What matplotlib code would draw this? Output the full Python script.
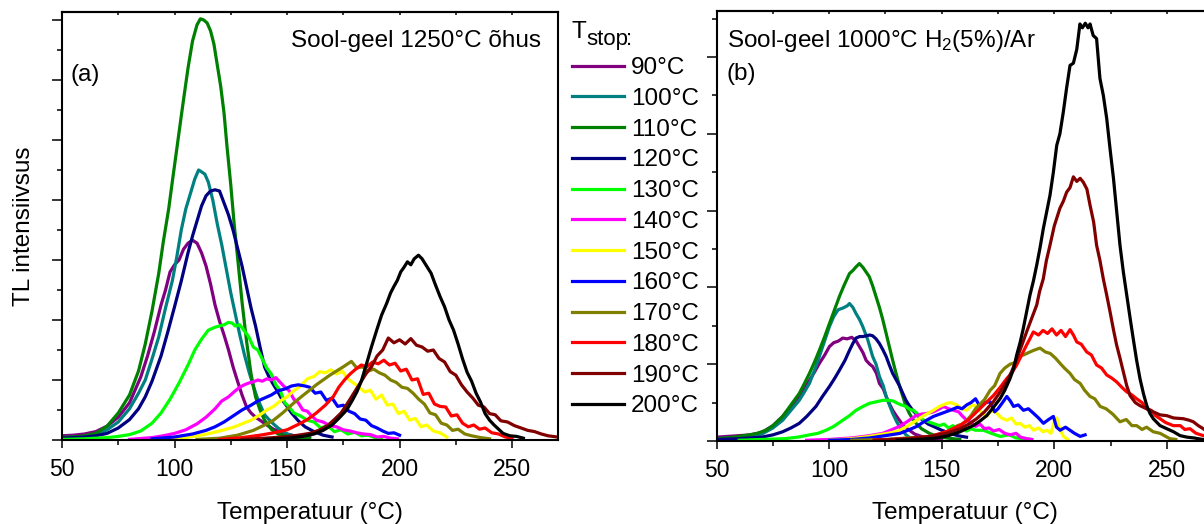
import matplotlib
matplotlib.use("Agg")
import matplotlib.pyplot as plt
from matplotlib.ticker import MultipleLocator, NullFormatter

plt.rcParams['font.family'] = ['Liberation Sans', 'DejaVu Sans']
plt.rcParams['mathtext.fontset'] = 'custom'
plt.rcParams['mathtext.rm'] = 'Liberation Sans'
plt.rcParams['mathtext.default'] = 'regular'

# ---------------- data ----------------
labels = ["90°C", "100°C", "110°C", "120°C", "130°C", "140°C",
          "150°C", "160°C", "170°C", "180°C", "190°C", "200°C"]
colors = ["#800080", "#008080", "#008000", "#000080", "#00FF00", "#FF00FF",
          "#FFFF00", "#0000FF", "#808000", "#FF0000", "#800000", "#000000"]

# Panel (a): Sool-geel 1250°C õhus
a90_T = [50, 55, 60, 65, 70, 75, 80, 85, 88, 91, 94, 96, 98, 100, 102, 104, 106, 108, 110, 112, 114, 116, 118, 120, 122, 124, 126, 128, 130, 132, 134, 136, 138, 141, 144, 148, 152, 156, 160]
a90_v = [0.07, 0.08, 0.1, 0.14, 0.23, 0.38, 0.62, 1.05, 1.4, 1.8, 2.25, 2.5, 2.8, 2.92, 3.0, 3.18, 3.28, 3.33, 3.28, 3.12, 2.9, 2.6, 2.25, 1.98, 1.75, 1.5, 1.22, 0.98, 0.75, 0.55, 0.45, 0.38, 0.33, 0.25, 0.18, 0.12, 0.08, 0.05, 0.04]
a100_T = [50, 55, 60, 65, 70, 75, 80, 84, 87, 90, 93, 96, 99, 101, 103, 105, 107, 109, 110.7, 112, 113.5, 115, 117, 119, 121, 123, 125, 127, 129, 131, 133, 135, 137, 140, 143, 146, 150, 155, 160]
a100_v = [0.04, 0.05, 0.06, 0.08, 0.17, 0.3, 0.52, 0.78, 1.0, 1.35, 1.72, 2.2, 2.65, 3.05, 3.5, 3.85, 4.1, 4.35, 4.5, 4.47, 4.43, 4.3, 4.0, 3.6, 3.25, 2.85, 2.45, 2.1, 1.75, 1.43, 1.15, 0.9, 0.68, 0.42, 0.3, 0.2, 0.1, 0.05, 0.03]
a110_T = [50, 55, 60, 65, 70, 75, 80, 84, 87, 90, 93, 95, 97.4, 99, 101, 103, 104, 106, 108, 110, 111.5, 113, 114.5, 116, 117.5, 119, 120.5, 122, 123.3, 125, 126.5, 128, 130, 132, 134, 136, 138, 140, 143, 146, 150, 155, 160]
a110_v = [0.04, 0.05, 0.07, 0.11, 0.23, 0.45, 0.75, 1.15, 1.6, 2.15, 2.78, 3.3, 3.85, 4.3, 4.85, 5.4, 5.67, 6.2, 6.65, 6.92, 7.02, 7.0, 6.95, 6.82, 6.6, 6.25, 5.9, 5.45, 4.9, 4.25, 3.6, 3.05, 2.3, 1.65, 1.1, 0.72, 0.5, 0.33, 0.18, 0.1, 0.06, 0.04, 0.03]
a120_T = [50, 55, 60, 65, 70, 75, 80, 84, 87, 90, 94, 97, 100, 103, 106, 108, 110, 112, 114, 116, 118, 120, 122, 124, 126, 128, 130, 132, 134, 136, 138, 140, 142, 144, 146, 148, 150, 152, 155, 158, 162, 166, 170]
a120_v = [0.03, 0.04, 0.05, 0.07, 0.11, 0.2, 0.34, 0.52, 0.72, 0.98, 1.4, 1.8, 2.22, 2.65, 3.12, 3.4, 3.65, 3.9, 4.07, 4.15, 4.17, 4.15, 3.95, 3.75, 3.5, 3.2, 2.9, 2.55, 2.2, 1.9, 1.55, 1.22, 1.05, 0.92, 0.8, 0.66, 0.56, 0.45, 0.32, 0.22, 0.14, 0.08, 0.05]
a130_T = [50, 60, 70, 75, 80, 85, 90, 94, 98, 102, 106, 109, 112, 115, 118, 120, 122, 124, 125.6, 127, 129, 131, 133, 135, 137, 139, 141, 143, 145, 147, 149, 151, 153, 156, 159, 162, 165, 168, 171, 174, 177, 180, 183, 186, 189, 192]
a130_v = [0.01, 0.02, 0.04, 0.06, 0.09, 0.15, 0.28, 0.45, 0.68, 0.95, 1.25, 1.5, 1.68, 1.83, 1.88, 1.9, 1.92, 1.96, 1.95, 1.9, 1.92, 1.82, 1.72, 1.55, 1.5, 1.35, 1.2, 1.1, 0.92, 0.82, 0.62, 0.55, 0.45, 0.4, 0.33, 0.3, 0.2, 0.24, 0.14, 0.17, 0.1, 0.13, 0.07, 0.08, 0.04, 0.03]
a140_T = [80, 90, 95, 100, 105, 110, 114, 118, 121, 124, 127, 129, 131, 133, 135, 137, 139, 141, 143, 145, 147, 149, 151, 153, 155, 157, 159, 161, 163, 166, 169, 172, 175, 178, 181, 184, 187, 190, 193, 196, 199]
a140_v = [0.01, 0.04, 0.07, 0.11, 0.17, 0.27, 0.38, 0.52, 0.65, 0.72, 0.82, 0.88, 0.92, 0.95, 0.97, 1.0, 0.98, 1.02, 1.0, 1.04, 0.96, 0.88, 0.82, 0.68, 0.62, 0.5, 0.48, 0.4, 0.33, 0.3, 0.24, 0.22, 0.17, 0.15, 0.12, 0.1, 0.09, 0.05, 0.06, 0.03, 0.02]
a150_T = [95, 105, 112, 118, 122, 126, 130, 134, 138, 141, 144, 147, 150, 153, 156, 159, 162, 164.5, 167, 169.5, 172, 174.5, 177, 179.5, 182, 184.5, 187, 189.5, 192, 194.5, 197, 199.5, 202, 204.5, 207, 209.5, 212, 215, 218, 221]
a150_v = [0.01, 0.04, 0.08, 0.13, 0.17, 0.21, 0.27, 0.33, 0.42, 0.5, 0.56, 0.65, 0.72, 0.82, 0.9, 1.02, 1.06, 1.14, 1.12, 1.17, 1.1, 1.15, 1.02, 0.95, 0.88, 0.8, 0.83, 0.68, 0.75, 0.58, 0.6, 0.44, 0.48, 0.33, 0.36, 0.22, 0.25, 0.15, 0.12, 0.05]
a160_T = [90, 100, 108, 114, 118, 122, 126, 130, 134, 137, 140, 143, 146, 149, 152, 155, 158, 160, 162.5, 165, 167.5, 170, 172.5, 175, 177.5, 180, 182.5, 185, 187.5, 190, 192.5, 195, 197.5, 200]
a160_v = [0.02, 0.05, 0.1, 0.16, 0.22, 0.3, 0.4, 0.5, 0.58, 0.65, 0.7, 0.75, 0.82, 0.85, 0.9, 0.92, 0.9, 0.88, 0.78, 0.8, 0.66, 0.7, 0.56, 0.58, 0.48, 0.44, 0.35, 0.33, 0.24, 0.2, 0.15, 0.11, 0.12, 0.08]
a170_T = [110, 120, 128, 135, 140, 144, 148, 151, 154, 157, 160, 163, 166, 169, 172, 175, 178.6, 181, 183.5, 186, 188.5, 191, 193.5, 196, 198.5, 201, 203.5, 206, 208.5, 211, 213.5, 216, 218.5, 221, 223.5, 226, 229, 232, 236, 240]
a170_v = [0.01, 0.03, 0.08, 0.16, 0.25, 0.33, 0.45, 0.55, 0.65, 0.74, 0.83, 0.92, 1.0, 1.08, 1.15, 1.22, 1.31, 1.2, 1.22, 1.15, 1.18, 1.12, 1.08, 1.0, 0.96, 0.88, 0.86, 0.78, 0.68, 0.6, 0.45, 0.42, 0.28, 0.25, 0.16, 0.18, 0.1, 0.07, 0.04, 0.02]
a180_T = [120, 130, 138, 144, 150, 155, 159, 163, 167, 170.5, 173, 175.5, 178, 180.5, 183, 185.5, 188, 190.5, 193, 195.5, 198, 200.5, 203, 205.5, 208, 210.5, 213, 215.5, 218, 220.5, 223, 225.5, 228, 230.5, 233, 235.5, 238, 241, 244, 247, 250]
a180_v = [0.01, 0.04, 0.08, 0.12, 0.17, 0.26, 0.34, 0.45, 0.58, 0.72, 0.88, 1.0, 1.1, 1.18, 1.25, 1.22, 1.3, 1.27, 1.33, 1.25, 1.28, 1.15, 1.18, 1.0, 1.02, 0.76, 0.78, 0.6, 0.56, 0.55, 0.4, 0.42, 0.28, 0.22, 0.25, 0.18, 0.2, 0.12, 0.1, 0.05, 0.03]
a190_T = [130, 140, 148, 155, 160, 164, 168, 171, 174, 177, 180, 182.5, 185, 187.5, 190, 192.5, 195, 197.5, 200, 202.5, 205, 207.5, 210, 212.5, 215, 217.5, 220, 222.5, 225, 227.5, 230, 232.5, 235, 237.5, 240, 242.5, 245, 248, 251, 254, 257, 260, 263, 266, 270]
a190_v = [0.01, 0.03, 0.05, 0.08, 0.11, 0.16, 0.24, 0.34, 0.45, 0.62, 0.8, 0.95, 1.1, 1.22, 1.4, 1.5, 1.7, 1.62, 1.67, 1.6, 1.69, 1.58, 1.55, 1.48, 1.5, 1.36, 1.3, 1.14, 1.08, 0.92, 0.8, 0.7, 0.58, 0.55, 0.44, 0.42, 0.32, 0.3, 0.24, 0.2, 0.16, 0.14, 0.1, 0.07, 0.05]
a200_T = [140, 150, 157, 162, 166, 170, 173, 176.5, 179, 181, 183, 185.4, 187.5, 190, 192, 194.3, 196, 197.5, 199, 200.5, 202, 203.5, 205, 206.5, 208.4, 210, 212, 214, 216, 218, 220, 222, 224, 226, 228, 230, 232, 234, 236, 238, 240, 242, 244, 246, 249, 252, 255]
a200_v = [0.01, 0.03, 0.06, 0.1, 0.16, 0.25, 0.36, 0.5, 0.66, 0.8, 0.98, 1.28, 1.55, 1.85, 2.08, 2.28, 2.45, 2.56, 2.66, 2.8, 2.88, 2.97, 2.92, 3.02, 3.08, 3.02, 2.9, 2.78, 2.58, 2.39, 2.22, 2.0, 1.83, 1.6, 1.35, 1.13, 0.98, 0.78, 0.63, 0.44, 0.33, 0.25, 0.18, 0.11, 0.07, 0.06, 0.03]

# Panel (b): Sool-geel 1000°C H2(5%)/Ar
b90_T = [50, 55, 60, 65, 70, 75, 79.3, 83, 86.7, 89, 91.2, 93.5, 95.6, 98, 100.1, 102, 104, 106, 108, 110, 112, 113.4, 115, 116.4, 118, 119.3, 121, 122.3, 124, 125.3, 127, 128.2, 130, 131.2, 133, 135.6, 138, 141, 145, 150]
b90_v = [0.05, 0.06, 0.07, 0.08, 0.11, 0.2, 0.32, 0.45, 0.58, 0.68, 0.79, 0.9, 1.01, 1.12, 1.23, 1.28, 1.3, 1.34, 1.33, 1.35, 1.3, 1.23, 1.15, 1.05, 1.0, 0.97, 0.88, 0.75, 0.68, 0.58, 0.47, 0.4, 0.32, 0.27, 0.2, 0.14, 0.09, 0.06, 0.03, 0.02]
b100_T = [50, 55, 60, 65, 70, 75, 79.3, 83, 86.7, 89, 91.2, 94.1, 97.1, 100.1, 102, 104, 106, 108, 109, 110.5, 111.9, 113.5, 114.9, 117.1, 119.3, 120.8, 122.3, 124, 125.3, 127, 128.2, 130, 131.2, 133, 134.1, 136, 140]
b100_v = [0.03, 0.04, 0.05, 0.06, 0.09, 0.17, 0.27, 0.4, 0.53, 0.64, 0.75, 0.97, 1.23, 1.49, 1.62, 1.71, 1.73, 1.76, 1.79, 1.74, 1.66, 1.58, 1.49, 1.32, 1.1, 1.0, 0.84, 0.72, 0.58, 0.45, 0.36, 0.25, 0.19, 0.12, 0.08, 0.04, 0.02]
b110_T = [50, 55, 60, 64.5, 68, 71.9, 75, 79.3, 83, 86.7, 89, 91.2, 93.5, 95.6, 98, 100.1, 102, 104.5, 106.5, 109, 110.5, 112, 113.4, 115, 117.8, 119.3, 120.8, 122.3, 123.8, 125.3, 126.7, 128.2, 129.7, 131.2, 132.7, 134, 135.6, 137, 138.6, 141, 144.5, 148, 152, 158]
b110_v = [0.03, 0.04, 0.06, 0.08, 0.1, 0.14, 0.2, 0.32, 0.47, 0.62, 0.75, 0.88, 1.03, 1.18, 1.36, 1.53, 1.68, 1.88, 2.02, 2.18, 2.22, 2.27, 2.31, 2.26, 2.14, 2.02, 1.88, 1.74, 1.58, 1.4, 1.23, 1.05, 0.88, 0.72, 0.58, 0.46, 0.36, 0.29, 0.23, 0.16, 0.1, 0.06, 0.04, 0.02]
b120_T = [50, 60, 70, 75, 79.3, 83, 86.7, 90, 94.1, 97, 100.1, 102.5, 104.5, 107, 109, 110.5, 111.9, 113.5, 115, 116.4, 118, 119.3, 120.8, 122.3, 123.8, 125.3, 126.7, 128.2, 129.7, 131.2, 132.7, 134.1, 135.6, 137.1, 139, 141.6, 144, 146.3, 150, 153.7, 157, 161]
b120_v = [0.02, 0.03, 0.05, 0.08, 0.12, 0.17, 0.23, 0.32, 0.45, 0.58, 0.71, 0.82, 0.92, 1.05, 1.18, 1.27, 1.34, 1.36, 1.36, 1.37, 1.38, 1.37, 1.33, 1.27, 1.19, 1.1, 0.99, 0.88, 0.8, 0.72, 0.62, 0.53, 0.46, 0.4, 0.34, 0.27, 0.22, 0.19, 0.14, 0.1, 0.07, 0.05]
b130_T = [60, 70, 80, 86, 91.2, 95, 98.6, 102, 106, 109, 111.9, 115, 117.8, 120.8, 123.8, 126.7, 128.5, 130.4, 132, 134.1, 136, 137.4, 139, 140.5, 141.9, 143.5, 145, 147, 149, 151, 153, 155, 157, 159, 161, 163, 165, 168.5, 172, 175.9, 180, 183, 186.3, 190]
b130_v = [0.01, 0.02, 0.03, 0.05, 0.08, 0.1, 0.14, 0.19, 0.27, 0.33, 0.4, 0.45, 0.49, 0.51, 0.53, 0.53, 0.52, 0.49, 0.47, 0.45, 0.41, 0.4, 0.36, 0.32, 0.27, 0.26, 0.24, 0.22, 0.2, 0.22, 0.17, 0.2, 0.15, 0.17, 0.13, 0.16, 0.14, 0.14, 0.1, 0.06, 0.08, 0.04, 0.03, 0.02]
b140_T = [90, 100, 110, 118, 123.8, 128, 131.2, 134, 136.5, 138.6, 141, 143.5, 146.3, 148.5, 150.8, 153, 155.2, 157.5, 159, 161.1, 163, 165, 167, 169, 171, 173, 175.5, 178, 180.4, 183, 185, 187.8, 190]
b140_v = [0.01, 0.02, 0.04, 0.07, 0.1, 0.15, 0.19, 0.24, 0.29, 0.33, 0.35, 0.36, 0.38, 0.41, 0.45, 0.42, 0.4, 0.38, 0.33, 0.27, 0.24, 0.19, 0.22, 0.16, 0.17, 0.13, 0.15, 0.1, 0.08, 0.1, 0.05, 0.03, 0.02]
b150_T = [100, 110, 118, 124, 128, 131.5, 135, 138.9, 142, 146.3, 149, 152.2, 154, 156.7, 159, 161.1, 163.5, 165.6, 168, 170, 172, 174.5, 176.5, 178.9, 181, 183, 184.8, 187, 189, 190.8, 193, 195, 196.7, 198.5, 200, 201.1, 202.5, 204.1, 206]
b150_v = [0.01, 0.03, 0.06, 0.09, 0.11, 0.14, 0.2, 0.27, 0.33, 0.4, 0.45, 0.49, 0.5, 0.47, 0.42, 0.4, 0.47, 0.45, 0.36, 0.32, 0.4, 0.36, 0.3, 0.27, 0.3, 0.22, 0.23, 0.18, 0.2, 0.14, 0.17, 0.12, 0.14, 0.1, 0.25, 0.3, 0.15, 0.06, 0.02]
b160_T = [100, 110, 118, 125, 131.5, 135, 138.9, 142, 146.3, 150, 153.7, 157, 159, 161.1, 163, 165, 167, 169, 171.5, 173.5, 175, 177, 178.9, 180.5, 181.9, 184, 186.3, 188.5, 190.8, 193, 195.2, 197.5, 199.6, 201, 202.6, 205, 207, 209, 211.5, 213.7]
b160_v = [0.01, 0.02, 0.04, 0.07, 0.1, 0.14, 0.19, 0.25, 0.32, 0.36, 0.4, 0.44, 0.42, 0.47, 0.5, 0.55, 0.45, 0.5, 0.51, 0.38, 0.42, 0.5, 0.58, 0.52, 0.45, 0.47, 0.4, 0.42, 0.36, 0.3, 0.23, 0.28, 0.32, 0.18, 0.14, 0.18, 0.14, 0.1, 0.06, 0.08]
b170_T = [110, 125, 135, 142, 146.3, 150, 153.7, 157, 159, 161.1, 163, 165, 167, 169, 171.5, 173.5, 175.9, 178, 180.4, 182.5, 184, 186.3, 188.5, 190.8, 193.7, 196, 198.2, 200.5, 202.6, 204.5, 207, 209, 211.5, 213.5, 215.9, 218, 220.4, 223, 226, 229.2, 232, 234.5, 236.6, 239, 241, 244, 247, 251.4, 254]
b170_v = [0.01, 0.02, 0.04, 0.05, 0.07, 0.1, 0.14, 0.2, 0.22, 0.27, 0.33, 0.42, 0.48, 0.54, 0.66, 0.72, 0.88, 0.95, 1.0, 1.02, 1.1, 1.12, 1.15, 1.18, 1.21, 1.16, 1.14, 1.08, 1.01, 0.95, 0.88, 0.8, 0.75, 0.66, 0.58, 0.55, 0.45, 0.42, 0.35, 0.25, 0.28, 0.2, 0.2, 0.15, 0.18, 0.12, 0.1, 0.03, 0.02]
b180_T = [120, 135, 145, 152, 158.1, 162, 165.5, 169, 172.9, 176, 178.8, 181, 183.3, 185.5, 187.7, 189.5, 190.7, 193, 195, 197, 199, 201, 203, 205, 207, 208.5, 210, 212, 214.4, 216.5, 218.8, 221, 223.3, 225.5, 227.7, 230, 232.2, 234.5, 236.6, 239, 241, 243, 245, 247, 249.5, 252.9, 256, 258, 260.3, 263, 266.2, 269]
b180_v = [0.01, 0.03, 0.06, 0.12, 0.2, 0.28, 0.38, 0.48, 0.59, 0.7, 0.81, 0.88, 0.99, 1.12, 1.25, 1.35, 1.42, 1.38, 1.44, 1.4, 1.46, 1.38, 1.44, 1.36, 1.45, 1.38, 1.29, 1.26, 1.16, 1.12, 0.99, 0.95, 0.86, 0.82, 0.77, 0.7, 0.64, 0.6, 0.55, 0.5, 0.42, 0.4, 0.33, 0.29, 0.24, 0.2, 0.2, 0.15, 0.16, 0.1, 0.07, 0.05]
b190_T = [120, 135, 145, 152, 158.1, 162, 165.5, 169, 172.9, 176, 178.8, 181, 183.3, 185.5, 187.7, 190, 192.2, 193.5, 195.1, 196.5, 198.1, 200, 202.5, 204, 205.5, 207, 208.5, 210, 211.5, 212.9, 214.5, 215.9, 217.5, 218.8, 220.3, 221.8, 223.3, 224.8, 226.3, 227.7, 229.2, 230.7, 232.2, 233.7, 236, 238.1, 241, 244, 247, 250, 253, 257.4, 260, 261.8, 264, 266.2, 269]
b190_v = [0.01, 0.03, 0.06, 0.1, 0.16, 0.22, 0.29, 0.38, 0.51, 0.64, 0.77, 0.9, 1.07, 1.24, 1.42, 1.6, 1.77, 1.95, 2.11, 2.35, 2.55, 2.8, 3.03, 3.12, 3.24, 3.3, 3.44, 3.38, 3.42, 3.37, 3.28, 3.07, 2.85, 2.55, 2.35, 2.11, 1.9, 1.68, 1.45, 1.25, 1.08, 0.9, 0.72, 0.59, 0.5, 0.46, 0.42, 0.38, 0.34, 0.33, 0.3, 0.29, 0.27, 0.25, 0.2, 0.16, 0.1]
b200_T = [130, 140, 148, 153, 158.1, 161, 164, 167, 170, 173, 175.9, 178, 180.3, 182, 183.3, 184.8, 186.2, 187.7, 189.2, 190.7, 192.2, 193.7, 195.1, 196.6, 198.1, 199.6, 201.1, 202.5, 204, 205.5, 207, 208.5, 210, 211.4, 212.5, 213.8, 215, 215.9, 217.3, 218.8, 220.3, 221.8, 223.3, 224.8, 226.3, 227.7, 229.2, 230.7, 232.2, 233.7, 235.1, 236.6, 238.1, 239.6, 241.1, 242.5, 244, 247, 250, 253, 255.9, 259, 262, 266, 270]
b200_v = [0.01, 0.02, 0.04, 0.07, 0.12, 0.16, 0.2, 0.26, 0.33, 0.44, 0.55, 0.66, 0.81, 0.95, 1.12, 1.28, 1.46, 1.68, 1.9, 2.08, 2.29, 2.52, 2.76, 2.98, 3.2, 3.5, 3.85, 4.0, 4.28, 4.6, 4.89, 4.92, 5.1, 5.43, 5.38, 5.44, 5.38, 5.43, 5.28, 5.24, 4.72, 4.5, 4.2, 3.8, 3.42, 3.0, 2.55, 2.2, 1.9, 1.6, 1.33, 1.05, 0.81, 0.62, 0.46, 0.36, 0.29, 0.2, 0.16, 0.12, 0.07, 0.05, 0.04, 0.02, 0.01]

panel_a = [(a90_T, a90_v), (a100_T, a100_v), (a110_T, a110_v), (a120_T, a120_v),
           (a130_T, a130_v), (a140_T, a140_v), (a150_T, a150_v), (a160_T, a160_v),
           (a170_T, a170_v), (a180_T, a180_v), (a190_T, a190_v), (a200_T, a200_v)]
panel_b = [(b90_T, b90_v), (b100_T, b100_v), (b110_T, b110_v), (b120_T, b120_v),
           (b130_T, b130_v), (b140_T, b140_v), (b150_T, b150_v), (b160_T, b160_v),
           (b170_T, b170_v), (b180_T, b180_v), (b190_T, b190_v), (b200_T, b200_v)]

x_ticks = [50, 100, 150, 200, 250]

# ---------------- figure ----------------
W, H = 1204, 524
fig = plt.figure(figsize=(W / 100, H / 100), dpi=100)


def px_axes(x0, y_top, w, h):
    return fig.add_axes([x0 / W, (H - y_top - h) / H, w / W, h / H])


axA = px_axes(62, 12, 496, 428)
axB = px_axes(716.7, 11, 496, 430)

LW = 2.3
lines = []
for (T, v), c, lab in zip(panel_a, colors, labels):
    ln, = axA.plot(T, v, color=c, lw=LW, label=lab, solid_joinstyle='round')
    lines.append(ln)
for (T, v), c in zip(panel_b, colors):
    axB.plot(T, v, color=c, lw=LW, solid_joinstyle='round')


def style(ax, ymax):
    ax.set_xlim(50, 270.4)
    ax.set_ylim(0, ymax)
    for s in ax.spines.values():
        s.set_linewidth(1.5)
    ax.set_xticks(x_ticks)
    ax.xaxis.set_minor_locator(MultipleLocator(25))
    ax.yaxis.set_major_locator(MultipleLocator(1))
    ax.yaxis.set_minor_locator(MultipleLocator(0.5))
    ax.yaxis.set_major_formatter(NullFormatter())
    ax.tick_params(axis='x', which='major', direction='out', length=5.8, width=1.1,
                   labelsize=16.5, pad=7, bottom=True, top=False)
    ax.tick_params(axis='x', which='minor', direction='out', length=3.6, width=1.1,
                   bottom=True, top=False)
    ax.tick_params(axis='y', which='major', direction='out', length=7.2, width=1.1,
                   left=True, right=False)
    ax.tick_params(axis='y', which='minor', direction='out', length=3.6, width=1.1,
                   left=True, right=False)
    sec = ax.secondary_xaxis('top')
    sec.xaxis.set_major_locator(MultipleLocator(25))
    sec.tick_params(axis='x', direction='in', length=2.5, width=1.1, labeltop=False)
    sec.spines['top'].set_linewidth(1.5)


style(axA, 428 / 60)
style(axB, 430 / 76.8)

FS = 17.5


def ftext(x, y, s, **kw):
    kw.setdefault('fontsize', FS)
    return fig.text(x / W, 1 - y / H, s, **kw)


ftext(541, 46.5, "Sool-geel 1250°C õhus", ha='right', va='baseline')
ftext(70, 81, "(a)", ha='left', va='baseline')
ftext(727, 46.5, "Sool-geel 1000°C H$_2$(5%)/Ar", ha='left', va='baseline')
ftext(727, 80, "(b)", ha='left', va='baseline')

ftext(310, 519, "Temperatuur (°C)", ha='center', va='baseline')
ftext(964.7, 519, "Temperatuur (°C)", ha='center', va='baseline')
ftext(23.6, 226, "TL intensiivsus", ha='center', va='center', rotation=90)

# legend title
ftext(572, 37.5, "T", ha='left', va='baseline')
ftext(586, 45, "stop", ha='left', va='baseline', fontsize=16)
ftext(626, 45, ":", ha='left', va='baseline', fontsize=16)

fig.legend(lines, labels, loc='upper left', bbox_to_anchor=(572 / W, 1 - 57 / H),
           frameon=False, fontsize=FS, handlelength=2.14, handletextpad=0.29,
           labelspacing=0.36, borderpad=0, borderaxespad=0)

fig.savefig("out.png", dpi=100)
